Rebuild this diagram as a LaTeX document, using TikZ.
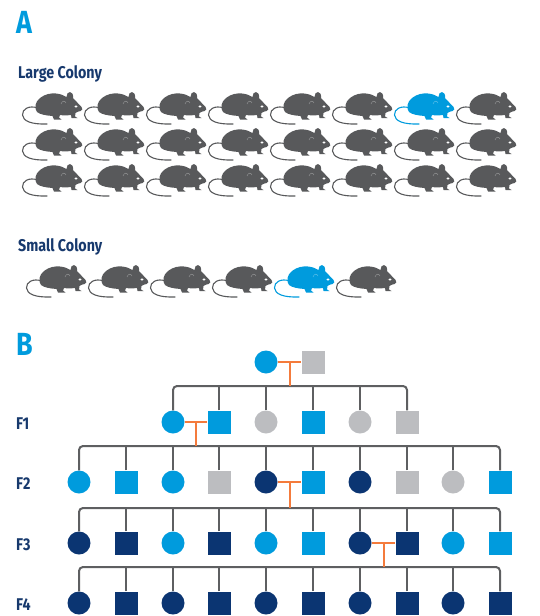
\documentclass[tikz,border=0pt]{standalone}
\usepackage{fontspec}
\newfontfamily\dinfont[FakeStretch=0.84]{Fira Sans}
\definecolor{lblue}{HTML}{009BDD}
\definecolor{navy}{HTML}{0B3572}
\definecolor{lgray}{HTML}{BCBDC0}
\definecolor{mgray}{HTML}{58595B}
\definecolor{txtnavy}{HTML}{17396D}
\definecolor{sibgray}{HTML}{5E5F61}
\definecolor{mateorange}{HTML}{F47B3C}

% mouse silhouette, drawn in pixel units with y pointing down
\tikzset{
  pics/mouse/.style={code={
    \draw[#1, line width=1.1pt, line cap=round] (17,17) .. controls (8,14) and (1,18) .. (1.5,24)
      .. controls (2,30) and (10,33.5) .. (26,33);
    \fill[#1] (16,21)
      .. controls (13,17) and (14,11) .. (19,7)
      .. controls (24,3) and (30,2) .. (35,2.5)
      .. controls (40,3) and (43,4.5) .. (45.5,6)
      .. controls (45.5,3) and (47,1) .. (49,1)
      .. controls (51,1) and (52.5,3.5) .. (52,7)
      .. controls (55,10) and (58,13.5) .. (60.5,16)
      .. controls (62,17.5) and (61.5,19.5) .. (59.5,20)
      .. controls (57.5,20.5) and (55.5,21) .. (54.5,22)
      -- (54,25.5) -- (56.5,27) -- (50.5,27) -- (50,24)
      .. controls (46,24.5) and (42,24.5) .. (39,24)
      -- (38,26.5) -- (40.5,28.5) -- (33,28.5) -- (31.5,25)
      .. controls (25,24.5) and (19,23.5) .. (16,21) -- cycle;
    \fill[white] (55,15.5) ellipse (1.6 and 1.1);
    \draw[white, opacity=.35, line width=.5pt] (40,13) .. controls (41,9.5) and (44,9.5) .. (45,12);
  }},
  pics/mouse/.default=mgray
}

\begin{document}
\begin{tikzpicture}[x=1pt, y=-1pt,
  panel/.style={font=\dinfont\bfseries\fontsize{32}{36}\selectfont, text=lblue, inner sep=0, anchor=base west},
  lbl/.style={font=\dinfont\bfseries\fontsize{17}{20}\selectfont, text=txtnavy, inner sep=0, anchor=base west},
  fem/.style={shape=circle, minimum size=23pt, inner sep=0},
  mal/.style={shape=rectangle, minimum size=23pt, inner sep=0},
  sib/.style={draw=sibgray, line width=2pt, rounded corners=4pt},
  mate/.style={draw=mateorange, line width=2pt}]
  \useasboundingbox (0,0) rectangle (539,616);

  % panel A
  \node [panel] (pA) at (16,33) {A};
  \node [lbl] (large) at (18,78) {Large Colony};
  \foreach \r in {0,1,2}
    \foreach \k in {0,...,7}
      {\ifnum\numexpr8*\r+\k\relax=6 \else \pic at ({21+62*\k},{91+36*\r}) {mouse};\fi}
  \pic at (393,91) {mouse=lblue};

  \node [lbl] (small) at (18,251) {Small Colony};
  \foreach \k in {0,1,2,3,5}
    \pic at ({25+62*\k},264) {mouse};
  \pic at (273,264) {mouse=lblue};

  % panel B
  \node [panel] (pB) at (16,355) {B};
  \node [lbl] (g1) at (16,429) {F1};
  \node [lbl] (g2) at (16,489) {F2};
  \node [lbl] (g3) at (16,550) {F3};
  \node [lbl] (g4) at (16,610) {F4};

  \coordinate (s1) at (0,386);
  \coordinate (s2) at (0,446);
  \coordinate (s3) at (0,508);
  \coordinate (s4) at (0,567);

  \node [fem, fill=lblue] (p0) at (266,362) {};
  \node [mal, fill=lgray] (p1) at (313,362) {};

  \node [fem, fill=lblue] (f12) at (173,422) {};
  \node [mal, fill=lblue] (f13) at (219,422) {};
  \node [fem, fill=lgray] (f14) at (266,422) {};
  \node [mal, fill=lblue] (f15) at (313,422) {};
  \node [fem, fill=lgray] (f16) at (360,422) {};
  \node [mal, fill=lgray] (f17) at (407,422) {};

  \node [fem, fill=lblue] (f20) at (79,482) {};
  \node [mal, fill=lblue] (f21) at (126,482) {};
  \node [fem, fill=lblue] (f22) at (173,482) {};
  \node [mal, fill=lgray] (f23) at (219,482) {};
  \node [fem, fill=navy]  (f24) at (266,482) {};
  \node [mal, fill=lblue] (f25) at (313,482) {};
  \node [fem, fill=navy]  (f26) at (360,482) {};
  \node [mal, fill=lgray] (f27) at (407,482) {};
  \node [fem, fill=lgray] (f28) at (453,482) {};
  \node [mal, fill=lblue] (f29) at (500,482) {};

  \node [fem, fill=navy]  (f30) at (79,543) {};
  \node [mal, fill=navy]  (f31) at (126,543) {};
  \node [fem, fill=lblue] (f32) at (173,543) {};
  \node [mal, fill=navy]  (f33) at (219,543) {};
  \node [fem, fill=lblue] (f34) at (266,543) {};
  \node [mal, fill=lblue] (f35) at (313,543) {};
  \node [fem, fill=navy]  (f36) at (360,543) {};
  \node [mal, fill=navy]  (f37) at (407,543) {};
  \node [fem, fill=lblue] (f38) at (453,543) {};
  \node [mal, fill=lblue] (f39) at (500,543) {};

  \node [fem, fill=navy] (f40) at (79,603) {};
  \node [mal, fill=navy] (f41) at (126,603) {};
  \node [fem, fill=navy] (f42) at (173,603) {};
  \node [mal, fill=navy] (f43) at (219,603) {};
  \node [fem, fill=navy] (f44) at (266,603) {};
  \node [mal, fill=navy] (f45) at (313,603) {};
  \node [fem, fill=navy] (f46) at (360,603) {};
  \node [mal, fill=navy] (f47) at (407,603) {};
  \node [fem, fill=navy] (f48) at (453,603) {};
  \node [mal, fill=navy] (f49) at (500,603) {};

  % sibship lines
  \draw [sib] (f12.north) |- (f17.north |- s1) -- (f17.north);
  \foreach \i in {3,...,6} \draw [sib] (f1\i.north) -- (f1\i.north |- s1);
  \draw [sib] (f20.north) |- (f29.north |- s2) -- (f29.north);
  \foreach \i in {1,...,8} \draw [sib] (f2\i.north) -- (f2\i.north |- s2);
  \draw [sib] (f30.north) |- (f39.north |- s3) -- (f39.north);
  \foreach \i in {1,...,8} \draw [sib] (f3\i.north) -- (f3\i.north |- s3);
  \draw [sib] (f40.north) |- (f49.north |- s4) -- (f49.north);
  \foreach \i in {1,...,8} \draw [sib] (f4\i.north) -- (f4\i.north |- s4);

  % matings
  \draw [mate] (p0.east) -- node [coordinate] (m0) {} (p1.west);
  \draw [mate] (m0) -- (m0 |- s1);
  \draw [mate] (f12.east) -- node [coordinate] (m1) {} (f13.west);
  \draw [mate] (m1) -- (m1 |- s2);
  \draw [mate] (f24.east) -- node [coordinate] (m2) {} (f25.west);
  \draw [mate] (m2) -- (m2 |- s3);
  \draw [mate] (f36.east) -- node [coordinate] (m3) {} (f37.west);
  \draw [mate] (m3) -- (m3 |- s4);
\end{tikzpicture}
\end{document}
